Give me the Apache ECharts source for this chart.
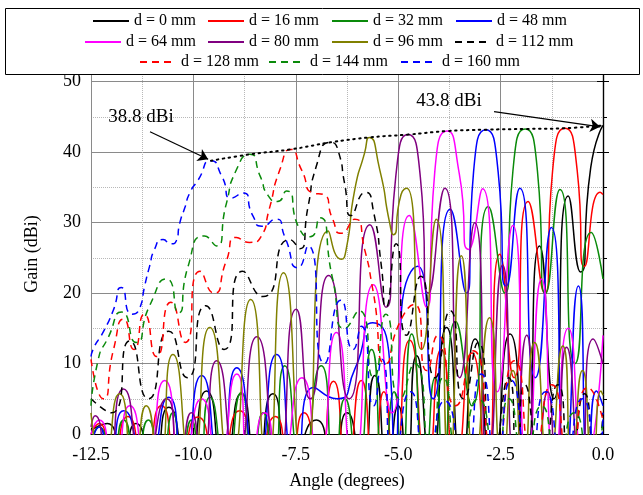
<!DOCTYPE html>
<html><head><meta charset="utf-8">
<script src="https://cdn.jsdelivr.net/npm/echarts/dist/echarts.min.js"></script>
<style>html,body{margin:0;padding:0;background:#fff}#c{width:643px;height:495px}</style>
</head><body><div id="c"></div><script>
// Beam names (legend)
const names = ['d = 0 mm','d = 16 mm','d = 32 mm','d = 48 mm','d = 64 mm','d = 80 mm','d = 96 mm','d = 112 mm','d = 128 mm','d = 144 mm','d = 160 mm'];
// [angle (deg), gain (dBi)]; deep nulls fall just below the 0 dBi floor
const d0 = [[-12.5,0.5],[-12.1,1.5],[-11.75,-4],[-11.4,1.5],[-11.0,-4],[-10.6,3.8],[-10.15,-4],[-9.68,6.1],[-9.25,-4],[-8.83,5.7],[-8.45,-4],[-8.06,5.7],[-7.6,-4],[-7.0,2],[-6.6,-4],[-6.25,3],[-5.9,-4],[-5.57,8.3],[-5.25,-4],[-5.0,4],[-4.8,-4],[-4.55,11.1],[-4.2,-4],[-3.82,15.1],[-3.45,-4],[-3.12,13.5],[-2.7,-4],[-2.27,14.2],[-1.9,-4],[-1.55,26.7],[-1.2,5],[-0.85,33.8],[-0.55,23],[-0.3,37.8],[0,43.8]];
const d16 = [[-12.5,0],[-12.3,1.5],[-12.0,-4],[-11.6,2.5],[-11.2,-4],[-10.78,4],[-10.35,-4],[-9.89,2.4],[-9.4,-4],[-8.87,3.3],[-8.45,-4],[-8.0,2.5],[-7.65,-4],[-7.3,3],[-6.95,-4],[-6.58,7.5],[-6.25,-4],[-5.9,7.6],[-5.6,-4],[-5.35,6],[-5.1,-4],[-4.72,13.3],[-4.3,-4],[-3.95,12],[-3.6,-4],[-3.2,11.5],[-2.85,-4],[-2.52,25.5],[-2.17,8],[-1.83,33],[-1.43,20],[-1.23,37.4],[-0.93,43.4],[-0.63,37.4],[-0.45,23.8],[-0.07,34.3],[0,34]];
const d32 = [[-12.5,-1],[-12.3,1],[-12.0,-4],[-11.7,2],[-11.4,-4],[-11.1,2],[-10.8,-4],[-10.5,3],[-10.3,-4],[-10.05,2],[-9.85,-4],[-9.6,5.2],[-9.2,-4],[-8.83,5.9],[-8.55,-4],[-8.3,3],[-8.05,-4],[-7.77,9.7],[-7.35,-4],[-6.88,9.7],[-6.55,-4],[-6.3,5],[-6.0,-4],[-5.65,12],[-5.35,-4],[-5.1,6],[-4.92,-4],[-4.67,14.2],[-4.35,-4],[-4.1,8],[-3.9,-4],[-3.6,16],[-3.2,4],[-2.8,32.3],[-2.4,20],[-2.2,37.3],[-1.9,43.3],[-1.6,37.3],[-1.4,20],[-1.05,34.7],[-0.68,10],[-0.29,28.6],[0,22]];
const d48 = [[-12.5,-2],[-12.3,1],[-12.05,-4],[-11.7,3.3],[-11.15,-4],[-10.6,5.2],[-10.25,-4],[-9.8,8.3],[-9.35,-4],[-8.94,9.4],[-8.45,-4],[-7.97,11.3],[-7.5,-4],[-7.07,6.6],[-6.5,5],[-6.06,9.2],[-5.62,15.8],[-5.21,10.4],[-5.08,-4],[-4.92,17.5],[-4.52,23.8],[-4.15,5],[-3.73,31.9],[-3.34,20],[-3.16,37.2],[-2.86,43.2],[-2.56,37.2],[-2.36,21],[-2.03,34.9],[-1.65,8],[-1.26,29.3],[-0.92,-4],[-0.6,21],[-0.35,-4],[-0.16,6.1],[0,4]];
const d64 = [[-12.5,0],[-12.3,2],[-11.95,-4],[-11.55,4],[-11.15,-4],[-10.7,7.6],[-10.25,-4],[-9.8,5],[-9.4,-4],[-8.94,8.5],[-8.6,-4],[-8.26,3],[-7.9,-4],[-7.35,8],[-6.95,-4],[-6.51,14.4],[-6.1,-4],[-5.61,21.2],[-5.15,3],[-4.73,31],[-4.31,18],[-4.11,37],[-3.81,43.0],[-3.51,37],[-3.28,26.2],[-2.94,34.8],[-2.58,6],[-2.2,29.6],[-1.85,-4],[-1.5,22],[-1.18,-4],[-0.85,15],[-0.45,-4],[0,14]];
const d80 = [[-12.5,1],[-12.4,2.6],[-12.1,-4],[-11.71,6.4],[-11.2,-4],[-10.65,5],[-10.35,-4],[-10.05,3],[-9.8,-4],[-9.43,10.4],[-8.95,-4],[-8.45,13.8],[-7.95,-4],[-7.49,17.7],[-7.15,5],[-6.7,22.5],[-6.2,5],[-5.69,29.7],[-5.3,18],[-5.06,36.5],[-4.76,42.5],[-4.46,36.5],[-4.26,20],[-3.86,34.9],[-3.5,8],[-3.13,30],[-2.8,-4],[-2.45,24],[-2.15,-4],[-1.86,14],[-1.6,-4],[-1.35,6],[-1.15,-4],[-0.89,12.3],[-0.55,-4],[-0.24,13.5],[0,10]];
const d96 = [[-12.5,3],[-12.2,-4],[-11.8,5.7],[-11.45,-4],[-11.15,4],[-10.85,-4],[-10.5,11.3],[-10.05,-4],[-9.6,15.1],[-9.1,-4],[-8.6,19.1],[-8.2,-4],[-7.8,22.9],[-7.3,-4],[-6.71,28.8],[-6.39,24.8],[-6.27,26.2],[-6.06,34.7],[-5.82,39.9],[-5.71,42.1],[-5.45,37.5],[-5.21,30],[-5.12,28.3],[-4.93,34],[-4.79,34.9],[-4.43,12],[-4.07,30.5],[-3.75,-4],[-3.46,25.3],[-3.12,-4],[-2.77,16.5],[-2.45,-4],[-2.2,9],[-1.95,-4],[-1.67,13],[-1.32,-4],[-0.98,12.5],[-0.75,-4],[-0.5,9],[-0.25,-4],[-0.05,6.1],[0,5.5]];
const d112 = [[-12.5,5],[-12.0,3],[-11.55,13.2],[-11.1,5],[-10.6,14.6],[-10.15,8],[-9.7,18.2],[-9.25,12],[-8.8,23.1],[-8.3,19.5],[-7.65,27.6],[-7.4,26.3],[-7.2,32.3],[-7.0,38],[-6.65,41.4],[-6.45,39.9],[-6.31,35.6],[-6.15,31],[-5.8,34.3],[-5.6,31.5],[-5.41,23.8],[-5.3,18],[-5.05,27],[-4.8,14],[-4.45,22.4],[-4.1,8],[-3.73,17.5],[-3.4,5],[-3.05,13],[-2.7,-4],[-2.3,8],[-2.1,-4],[-1.91,7],[-1.5,-4],[-1.1,7],[-0.8,-4],[-0.45,5.7],[-0.2,-4],[0,3]];
const d128 = [[-12.5,10.6],[-12.2,5],[-11.95,12],[-11.7,16.3],[-11.45,12],[-11.2,17],[-10.9,11],[-10.55,18.7],[-10.2,13],[-9.84,23.1],[-9.5,20],[-9.2,24.5],[-8.95,27.9],[-8.63,27.2],[-8.34,28.1],[-8.15,31.9],[-7.89,37.5],[-7.62,40.4],[-7.36,37.5],[-7.07,34.2],[-6.83,34],[-6.6,30.5],[-6.4,28.5],[-6.06,30.5],[-5.82,26.2],[-5.62,20.5],[-5.3,10],[-4.95,16],[-4.6,18.4],[-4.3,9],[-4.03,14],[-3.6,4],[-3.17,11.8],[-2.65,-3],[-2.16,10.4],[-1.7,-3],[-1.25,7],[-0.8,-4],[-0.37,6.6],[0,2]];
const d144 = [[-12.5,4],[-12.33,10.4],[-12.08,13.7],[-11.75,17.3],[-11.4,13],[-11.07,18.2],[-10.65,22],[-10.37,17.2],[-10.13,23.8],[-9.73,28.1],[-9.44,26.7],[-9.2,32.6],[-8.95,37.5],[-8.62,39.7],[-8.37,36.6],[-8.17,33.8],[-7.95,33],[-7.73,34.5],[-7.4,29],[-7.15,28],[-6.92,30.7],[-6.6,22],[-6.3,15],[-5.95,17.5],[-5.6,8],[-5.3,17],[-4.95,5],[-4.6,10],[-4.2,-3],[-3.9,8],[-3.5,-3],[-3.05,5],[-2.6,-4],[-2.3,5],[-1.9,-4],[-1.5,4],[-1.1,-4],[-0.7,3],[-0.3,-4],[0,2]];
const d160 = [[-12.5,11],[-12.45,12],[-12.2,14.5],[-11.96,17.5],[-11.76,20.8],[-11.5,17],[-11.3,18],[-11.19,21],[-11.07,23.8],[-10.95,26.2],[-10.74,27.6],[-10.55,27],[-10.42,27.4],[-10.33,30],[-10.21,32.1],[-10.09,34.2],[-9.89,36],[-9.57,38.8],[-9.3,36.5],[-9.07,33.5],[-8.79,34.2],[-8.55,31],[-8.33,29.5],[-7.98,30.5],[-7.77,28],[-7.45,23.6],[-7.2,26.7],[-6.8,10],[-6.4,19],[-6.1,12],[-5.9,15.3],[-5.6,4],[-5.4,10.6],[-5.1,-4],[-4.7,6],[-4.3,-4],[-3.86,4.7],[-3.4,-4],[-2.97,8.5],[-2.6,-4],[-2.24,7.6],[-1.8,-4],[-1.4,6],[-0.95,-4],[-0.5,5],[-0.15,-3],[0,3]];
// Peak envelope (dotted)
const envelope = [[-9.57,38.8],[-8.62,39.7],[-7.62,40.4],[-6.65,41.4],[-5.71,42.1],[-4.76,42.5],[-3.81,43.0],[-2.86,43.2],[-1.90,43.3],[-0.93,43.4],[0,43.8]];
// Annotations: label text, label anchor, arrow start, arrow end
const annoText = ['38.8 dBi','43.8 dBi'];
const annoLabelAt = [[-11.28,45.0],[-3.76,47.3]];
const annoArrowFrom = [[-11.06,42.9],[-2.66,45.75]];
const annoArrowTo = [[-9.64,39.0],[-0.07,43.6]];

const beams = [d0,d16,d32,d48,d64,d80,d96,d112,d128,d144,d160];
const colors = ['#000000','#ff0000','#0a8a0a','#0000ff','#ff00ff','#800080','#808000','#000000','#ff0000','#0a8a0a','#0000ff'];
const legendPos = [[92,13],[207,13],[331,13],[455,13],[84,34],[207,34],[331,34],[454,34],[139,54],[268,54],[400,54]];
const serif = '"Liberation Serif","Times New Roman",serif';

const series = beams.map((d,i)=>({
  name:names[i], type:'line', data:d, smooth:0.7, symbol:'none', showSymbol:false, clip:true,
  lineStyle:{color:colors[i], width:1.5, type: i>=7 ? [7,5] : 'solid'},
  itemStyle:{color:colors[i]}, z:2
}));
series.push({
  name:'envelope', type:'line', data:envelope, smooth:0.4, symbol:'none', showSymbol:false,
  lineStyle:{color:'#000', width:2, type:[1.5,4.5], cap:'round'}, z:5, silent:true,
  markLine:{silent:true, symbol:['none','arrow'], symbolSize:10, label:{show:false},
    lineStyle:{color:'#000', width:1.2, type:'solid'},
    data: annoArrowFrom.map((p,i)=>[{coord:p},{coord:annoArrowTo[i]}])},
  markPoint:{silent:true, symbol:'rect', symbolSize:1, itemStyle:{color:'rgba(0,0,0,0)'},
    label:{show:true, position:'inside', color:'#000', fontSize:19, fontFamily:serif, formatter:p=>p.name},
    data: annoLabelAt.map((p,i)=>({name:annoText[i], coord:p}))}
});

const chart = echarts.init(document.getElementById('c'), null, {renderer:'canvas'});
chart.setOption({
  animation:false,
  backgroundColor:'#fff',
  grid:{left:91, right:40, top:74, bottom:60},
  xAxis:{type:'value', min:-12.5, max:0, interval:2.5,
    name:'Angle (degrees)', nameLocation:'middle', nameGap:38,
    nameTextStyle:{fontFamily:serif, fontSize:18, color:'#000'},
    axisLine:{show:true, onZero:false, lineStyle:{color:'#000', width:1.2}},
    axisTick:{show:true, inside:true, length:6, lineStyle:{color:'#000'}},
    minorTick:{show:true, splitNumber:2, length:4, lineStyle:{color:'#000'}},
    axisLabel:{fontFamily:serif, fontSize:18, color:'#000', margin:12, formatter:v=>v.toFixed(1)},
    splitLine:{show:true, lineStyle:{color:'#8a8a8a', width:1}},
    minorSplitLine:{show:true, lineStyle:{color:'#b8b8b8', width:1, type:'dotted'}}
  },
  yAxis:[{type:'value', min:0, max:51.1, interval:10,
    name:'Gain (dBi)', nameLocation:'middle', nameGap:50,
    nameTextStyle:{fontFamily:serif, fontSize:18, color:'#000'},
    axisLine:{show:true, lineStyle:{color:'#000', width:1.2}},
    axisTick:{show:true, inside:true, length:6, lineStyle:{color:'#000'}},
    minorTick:{show:true, splitNumber:2, length:4, lineStyle:{color:'#000'}},
    axisLabel:{fontFamily:serif, fontSize:18, color:'#000', margin:10, formatter:v=> (v%10===0? String(v):'')},
    splitLine:{show:true, lineStyle:{color:'#8a8a8a', width:1}},
    minorSplitLine:{show:true, lineStyle:{color:'#b8b8b8', width:1, type:'dotted'}}
  },{type:'value', position:'right', min:0, max:51.1, interval:10,
    axisLine:{show:true, lineStyle:{color:'#000', width:1.2}},
    axisTick:{show:true, inside:true, length:6, lineStyle:{color:'#000'}},
    axisLabel:{show:false}, splitLine:{show:false}
  }],
  legend: names.map((n,i)=>({data:[n], left:legendPos[i][0], top:legendPos[i][1], padding:0,
    itemWidth:36, itemHeight:12, selectedMode:false, z:10,
    itemStyle:{opacity:0},
    textStyle:{fontFamily:serif, fontSize:16, color:'#000'}})),
  graphic:[{type:'rect', z:8, shape:{x:5.5, y:8.5, width:634, height:66},
    style:{fill:'#fff', stroke:'#000', lineWidth:1}}],
  series
});
</script></body></html>
